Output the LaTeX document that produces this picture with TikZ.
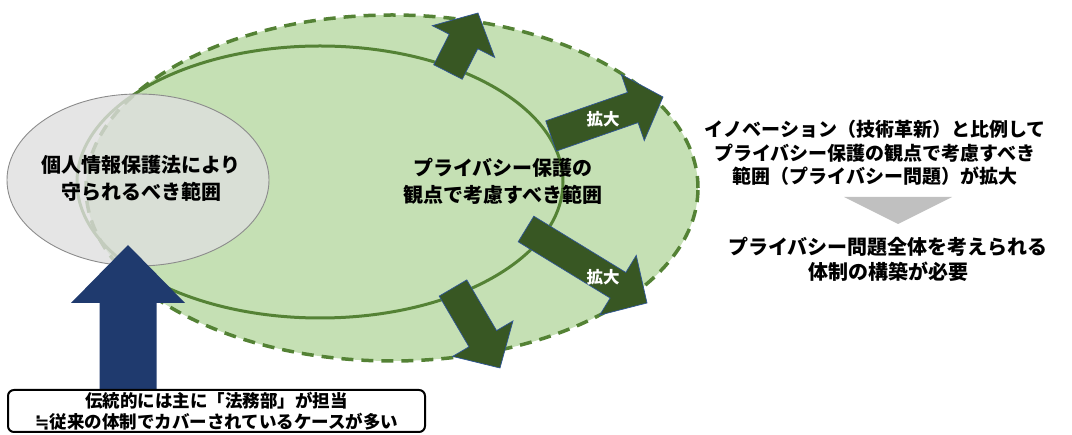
\documentclass[tikz,border=0pt]{standalone}
\usepackage{fontspec}
\setmainfont{Noto Sans CJK JP}
\newfontfamily\symfam{DejaVu Sans}
\usetikzlibrary{calc}
\definecolor{greenfill}{HTML}{C5E0B4}
\definecolor{greenline}{HTML}{548235}
\definecolor{arrowgreen}{HTML}{385723}
\definecolor{arrowedge}{HTML}{2F5597}
\definecolor{grayfill}{HTML}{DFDFDF}
\definecolor{grayedge}{HTML}{8C8C8C}
\definecolor{navy}{HTML}{1F3A6E}
\definecolor{trigray}{HTML}{C0C0C0}
\tikzset{
  outerring/.style={fill=greenfill, draw=greenline, line width=3.5pt, dash pattern=on 12pt off 8pt},
  innerring/.style={draw=greenline, line width=3pt},
  lawring/.style={fill=grayfill, fill opacity=0.8, draw=grayedge, line width=0.9pt},
  fatgreen/.style={fill=arrowgreen, draw=arrowedge, line width=0.7pt, line join=miter},
  fatnavy/.style={fill=navy, draw=none},
  jptext/.style={align=center, inner sep=0pt, text=black, font=\bfseries\fontsize{20}{27}\selectfont},
  whitelabel/.style={inner sep=0pt, text=white, font=\bfseries\fontsize{16.5}{18}\selectfont},
  notebox/.style={draw=black, line width=2pt, rounded corners=6pt, fill=white}
}
\newcommand\fatarrowdraw[6]{% base, tip, shaft half, head half, head length, style
  \coordinate (faH) at ($(#2)!#5pt!(#1)$);
  \draw[#6] ($(#1)!#3pt!90:(#2)$) -- ($(faH)!#3pt!-90:(#1)$) -- ($(faH)!#4pt!-90:(#1)$) -- (#2)
     -- ($(faH)!#4pt!90:(#1)$) -- ($(faH)!#3pt!90:(#1)$) -- ($(#1)!#3pt!-90:(#2)$) -- cycle;
}
\begin{document}
\begin{tikzpicture}[x=1pt,y=-1pt]
\useasboundingbox (0,0) rectangle (1072,435);
% rings
\draw[outerring] (392,188) ellipse [x radius=306pt, y radius=173pt];
\draw[innerring] (320,182) ellipse [x radius=243pt, y radius=136pt];
% expansion arrows
\coordinate (a1b) at (448,72);  \coordinate (a1t) at (478,13);
\coordinate (a2b) at (551,136); \coordinate (a2t) at (663,97);
\coordinate (a3b) at (526,229); \coordinate (a3t) at (647,303);
\coordinate (a4b) at (453,288); \coordinate (a4t) at (500,368);
\fatarrowdraw{a1b}{a1t}{16}{35}{32}{fatgreen}
\fatarrowdraw{a2b}{a2t}{16}{35}{32}{fatgreen}
\fatarrowdraw{a3b}{a3t}{15}{35}{34}{fatgreen}
\fatarrowdraw{a4b}{a4t}{16}{35}{34}{fatgreen}
\node[whitelabel] (l2) at (603,119) {拡大};
\node[whitelabel] (l3) at (603,277) {拡大};
% law ring
\draw[lawring] (138,180) ellipse [x radius=131pt, y radius=86pt];
\node[jptext] (lawtext) at (141,178.5) {個人情報保護法により\\守られるべき範囲};
\node[jptext] (privtext) at (503,181) {プライバシー保護の\\観点で考慮すべき範囲};
% navy arrow and note box
\coordinate (nb) at (128,392); \coordinate (nt) at (128,245);
\fatarrowdraw{nb}{nt}{28.5}{57}{58}{fatnavy}
\draw[notebox] (8,390) rectangle (425,432);
\node[jptext, font=\bfseries\fontsize{17.5}{21}\selectfont] (note) at (216.5,411) {伝統的には主に「法務部」が担当\\{\symfam ≒}従来の体制でカバーされているケースが多い};
% right side
\node[jptext, font=\bfseries\fontsize{19}{23.5}\selectfont] (innov) at (875,153) {イノベーション（技術革新）と比例して\\プライバシー保護の観点で考慮すべき\\範囲（プライバシー問題）が拡大};
\coordinate (tl) at (844,197); \coordinate (tr) at (952,197); \coordinate (tb) at (898,224);
\fill[trigray] (tl) -- (tr) -- (tb) -- cycle;
\node[jptext, font=\bfseries\fontsize{20}{25}\selectfont] (need) at (888,259.5) {プライバシー問題全体を考えられる\\体制の構築が必要};
\end{tikzpicture}
\end{document}
